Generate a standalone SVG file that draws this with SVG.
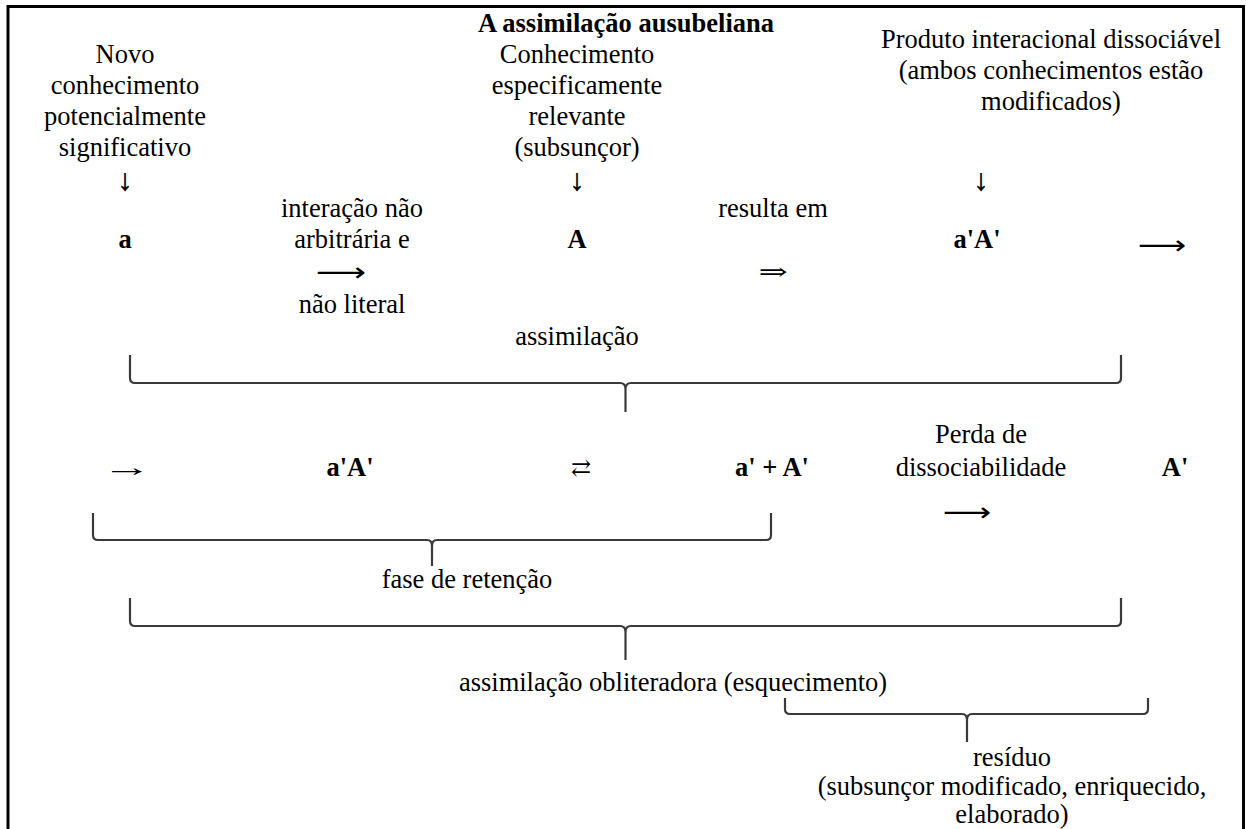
<svg xmlns="http://www.w3.org/2000/svg" width="1246" height="829" viewBox="0 0 1246 829">
<style>
text{font-family:"Liberation Serif","Times New Roman","DejaVu Serif",serif;font-size:26.5px;fill:#000;text-anchor:middle}
.b{font-weight:bold}
.dn{font-size:30px;stroke:#000;stroke-width:0.5}
.lr{font-family:"DejaVu Sans",sans-serif;font-size:26px;font-weight:normal}
.ds{font-family:"DejaVu Serif","DejaVu Sans",serif;font-size:24px}
.br{fill:none;stroke:#3a3a3a;stroke-width:2.2;stroke-linejoin:round;stroke-linecap:butt}
</style>
<rect width="1246" height="829" fill="#fff"/>
<path d="M8,829 V6.5 H1243.5 V829" fill="none" stroke="#000" stroke-width="3"/>
<g id="title"><text class="b" x="626" y="32">A assimilação ausubeliana</text></g>
<g id="novo">
<text x="125" y="63">Novo</text>
<text x="125" y="94">conhecimento</text>
<text x="125" y="125">potencialmente</text>
<text x="125" y="156">significativo</text>
</g>
<g id="subsuncor">
<text x="577" y="63">Conhecimento</text>
<text x="577" y="94">especificamente</text>
<text x="577" y="125">relevante</text>
<text x="577" y="156">(subsunçor)</text>
</g>
<g id="produto">
<text x="1051" y="48">Produto interacional dissociável</text>
<text x="1051" y="79">(ambos conhecimentos estão</text>
<text x="1051" y="110">modificados)</text>
</g>
<g id="a"><text class="b" x="125" y="248">a</text></g>
<g id="A"><text class="b" x="577" y="248">A</text></g>
<g id="aA1"><text class="b" x="977" y="248">a'A'</text></g>
<g id="interacao">
<text x="352" y="217">interação não</text>
<text x="352" y="248">arbitrária e</text>
<text x="352" y="313">não literal</text>
</g>
<g id="resulta"><text x="773" y="217">resulta em</text></g>
<g id="assimilacao"><text x="577" y="345">assimilação</text></g>
<g id="aA2"><text class="b" x="350" y="476">a'A'</text></g>
<g id="aplusA"><text class="b" x="772" y="476">a' + A'</text></g>
<g id="perda">
<text x="981" y="443">Perda de</text>
<text x="981" y="476">dissociabilidade</text>
</g>
<g id="Afinal"><text class="b" x="1175" y="476">A'</text></g>
<g id="retencao"><text x="467" y="588">fase de retenção</text></g>
<g id="obliteradora"><text x="673" y="691">assimilação obliteradora (esquecimento)</text></g>
<g id="residuo">
<text x="1012" y="766">resíduo</text>
<text x="1012" y="795">(subsunçor modificado, enriquecido,</text>
<text x="1012" y="823">elaborado)</text>
</g>
<g id="connectors">
<text class="dn" x="125" y="190">↓</text>
<text class="dn" x="577" y="190">↓</text>
<text class="dn" x="981" y="190">↓</text>
<text class="lr" transform="translate(341,281) scale(1.35,1)">⟶</text>
<text class="lr" transform="translate(1162,254) scale(1.3,1)">⟶</text>
<text class="lr" transform="translate(967,521) scale(1.3,1)">⟶</text>
<text class="ds" transform="translate(773,280) scale(1.45,1)">⇒</text>
<text transform="translate(127,476) scale(1.9,1)">→</text>
<text class="ds" x="581" y="476">⇄</text>
<path class="br" d="M130,355 V378 Q130,383 135,383 H620 Q625.5,383 625.5,389 V412 M625.5,389 Q625.5,383 631,383 H1116 Q1121,383 1121,378 V355"/>
<path class="br" d="M93,513 V535 Q93,540 98,540 H427 Q432,540 432,546 V566 M432,546 Q432,540 437,540 H766 Q771,540 771,535 V513"/>
<path class="br" d="M130,598 V621 Q130,626 135,626 H620 Q625.5,626 625.5,632 V660 M625.5,632 Q625.5,626 631,626 H1116 Q1121,626 1121,621 V598"/>
<path class="br" d="M785,698 V709 Q785,714 790,714 H962 Q967,714 967,720 V742 M967,720 Q967,714 972,714 H1143 Q1148,714 1148,709 V698"/>
</g>
</svg>
